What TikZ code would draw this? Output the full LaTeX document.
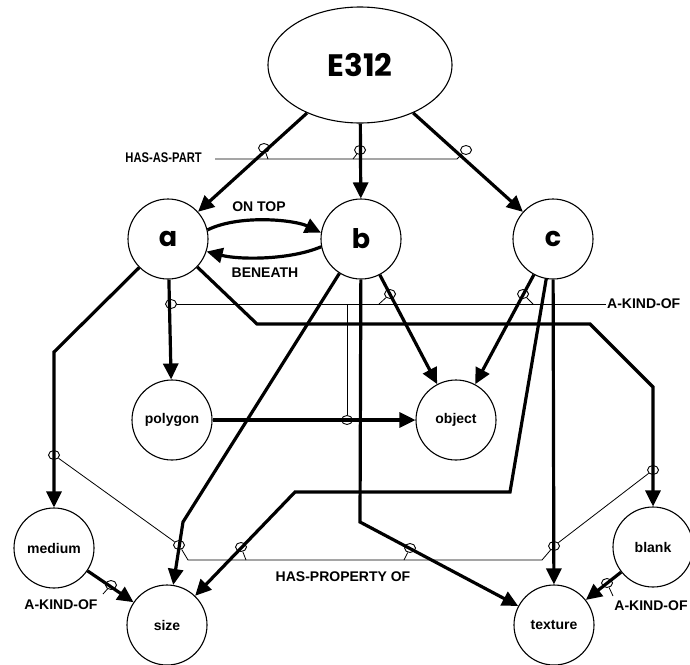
\documentclass[tikz,border=0pt]{standalone}
\usepackage{fontspec}
\usepackage{graphicx}
\setmainfont{Liberation Sans}
\newfontfamily\geofont{Poppins}
\usetikzlibrary{arrows.meta,shapes.geometric}

\begin{document}
\begin{tikzpicture}[x=1pt,y=-1pt,
  concept/.style={circle,draw,line width=1.1pt,minimum size=80pt,inner sep=0pt,
    font=\fontsize{14}{15}\selectfont\bfseries},
  letter/.style={concept,font=\geofont\fontsize{27}{28}\selectfont\bfseries},
  rel/.style={line width=3.2pt,-{Triangle[length=16pt,width=15pt]}},
  link/.style={line width=0.8pt},
  tag/.style={ellipse,draw,line width=0.9pt,minimum width=11pt,minimum height=9pt,inner sep=0pt},
  lbl/.style={font=\fontsize{14}{16}\selectfont\bfseries,inner sep=1pt}
]
\fill[white] (0,0) rectangle (690,664);
\useasboundingbox (0,0) rectangle (690,664);

% concepts
\node[ellipse,draw,line width=1.1pt,minimum width=184pt,minimum height=116pt,
  font=\geofont\fontsize{31}{32}\selectfont\bfseries] (E) at (360,65) {E312};
\node[letter] (a) at (168,239) {a};
\node[letter] (b) at (361,239) {b};
\node[letter] (c) at (553,239) {c};
\node[concept] (polygon) at (172,420) {polygon};
\node[concept] (object) at (456,420) {object};
\node[concept] (medium) at (54,548) {medium};
\node[concept] (size) at (167,625) {size};
\node[concept] (texture) at (554,625) {texture};
\node[concept] (blank) at (653,547) {blank};

% bend points of the routed relations
\coordinate (am) at (54,352);
\coordinate (ab1) at (257,324);
\coordinate (ab2) at (590,324);
\coordinate (ab3) at (653,387);
\coordinate (bs) at (183,522);
\coordinate (bt) at (360,522);
\coordinate (cs1) at (510,492);
\coordinate (cs2) at (295,492);

% relations
\draw[rel] (E) -- (a);
\draw[rel] (E) -- (b);
\draw[rel] (E) -- (c);
\draw[rel] (a.13) .. controls (240,214) and (295,220) .. (b.171);
\draw[rel] (b.191) .. controls (290,260) and (240,260) .. (a.-18);
\draw[rel] (a) -- (polygon);
\draw[rel] (a) -- (am) -- (medium);
\draw[rel] (a) -- (ab1) -- (ab2) -- (ab3) -- (blank);
\draw[rel] (b) -- (bs) -- (size);
\draw[rel] (b) -- (bt) -- (texture);
\draw[rel] (b) -- (object);
\draw[rel] (c) -- (object);
\draw[rel] (c) -- (cs1) -- (cs2) -- (size);
\draw[rel] (c) -- (texture);
\draw[rel] (polygon) -- (object);
\draw[rel] (medium) -- (size);
\draw[rel] (blank) -- (texture);

% edge labels
\node[lbl] (ontop) at (259,207) {ON TOP};
\node[lbl] (beneath) at (265,273) {BENEATH};

% HAS-AS-PART
\node[lbl,anchor=east] (hasPart) at (203,158) {\scalebox{0.8}[1]{HAS-AS-PART}};
\node[tag] (hA) at (264,148) {};
\node[tag] (hB) at (360,150) {};
\node[tag] (hC) at (466,150) {};
\coordinate (hp0) at (215,159);
\coordinate (hp1) at (457,159);
\coordinate (hpa) at (268,159);
\coordinate (hpb) at (353,159);
\draw[link] (hp0) -- (hp1) -- (hC);
\draw[link] (hpa) -- (hA);
\draw[link] (hpb) -- (hB);

% A-KIND-OF (upper)
\node[lbl,anchor=west] (akoTop) at (606,304) {A-KIND-OF};
\node[tag] (k1) at (171,304) {};
\node[tag] (k2) at (347,420) {};
\node[tag] (k3) at (390,294) {};
\node[tag] (k4) at (523,294) {};
\coordinate (kv) at (347,304);
\coordinate (kb) at (379,304);
\coordinate (kc) at (533,304);
\draw[link] (k1) -- (akoTop.west);
\draw[link] (kv) -- (k2);
\draw[link] (kb) -- (k3);
\draw[link] (kc) -- (k4);

% HAS-PROPERTY OF
\node[lbl] (hasProp) at (343,577) {HAS-PROPERTY OF};
\node[tag] (p1) at (54,455) {};
\node[tag] (p2) at (179,545) {};
\node[tag] (p3) at (241,547) {};
\node[tag] (p4) at (410,548) {};
\node[tag] (p5) at (554,546) {};
\node[tag] (p6) at (653,470) {};
\coordinate (pq1) at (188,560);
\coordinate (pq2) at (542,560);
\coordinate (pq3) at (246,560);
\coordinate (pq4) at (404,560);
\draw[link] (p1) -- (p2) -- (pq1) -- (pq2) -- (p5) -- (p6);
\draw[link] (pq3) -- (p3);
\draw[link] (pq4) -- (p4);

% A-KIND-OF (lower)
\node[lbl] (akoL) at (61,605) {A-KIND-OF};
\node[tag] (q1) at (111,585) {};
\coordinate (q1t) at (103,594);
\draw[link] (q1t) -- (q1);
\node[lbl] (akoR) at (651,606) {A-KIND-OF};
\node[tag] (q2) at (607,583) {};
\coordinate (q2t) at (613,596);
\draw[link] (q2t) -- (q2);
\end{tikzpicture}
\end{document}
